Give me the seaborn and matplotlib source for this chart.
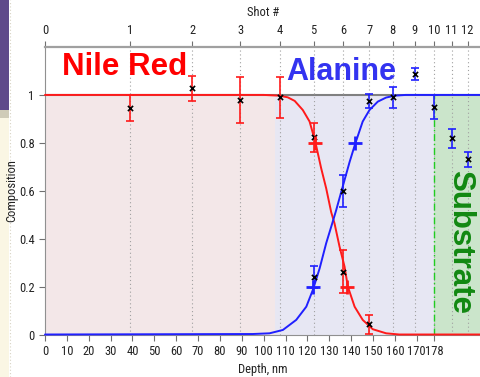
import numpy as np
import pandas as pd
import matplotlib
matplotlib.use("Agg")
import matplotlib.pyplot as plt
from matplotlib.patches import Rectangle
from matplotlib import font_manager
import seaborn as sns

# ---------------- data ----------------
shot_numbers = list(range(0, 13))
shot_depths = [0, 39.1, 67.3, 89.4, 107.4, 122.8, 136.5, 148.2, 159.0, 169.0, 177.8, 186.0, 193.3]

depth_ticks = [0, 10, 20, 30, 40, 50, 60, 70, 80, 90, 100, 110, 120, 130, 140, 150, 160, 170, 178]
comp_ticks = [0, 0.2, 0.4, 0.6, 0.8, 1.0]
comp_tick_labels = ["0", "0.2", "0.4", "0.6", "0.8", "1"]

# region boundaries (nm): Nile Red layer, Alanine layer, Substrate
region_edges = [0, 105.2, 178, 199.4]
region_names = ["Nile Red", "Alanine", "Substrate"]

# fitted profile curves
red_curve_depth = [0, 100, 107, 111, 114.2, 117.9, 121, 123.6, 126.3, 128.6, 130.9,
                   132.4, 134.7, 137, 138.5, 141.6, 145.3, 149.9, 156, 162, 200]
red_curve_comp = [1, 1, 0.997, 0.99, 0.975, 0.937, 0.889, 0.805, 0.694, 0.61, 0.51,
                  0.464, 0.367, 0.283, 0.2, 0.116, 0.061, 0.022, 0.005, 0, 0]
blue_curve_depth = [0, 95, 102.7, 108.8, 114.9, 119.5, 122.5, 125.6, 128.6, 131.6, 133.2,
                    135.5, 139.3, 142, 145.3, 148.4, 152.2, 156, 160, 165, 200]
blue_curve_comp = [0, 0.002, 0.005, 0.019, 0.061, 0.116, 0.186, 0.276, 0.381, 0.471, 0.52,
                   0.596, 0.72, 0.80, 0.889, 0.937, 0.972, 0.989, 0.997, 1, 1]

# measured points with error bars
red_pt_depth = [39.1, 67.3, 89.4, 107.4, 122.8, 136.5, 148.2]
red_pt_comp = [0.946, 1.027, 0.979, 0.990, 0.823, 0.262, 0.043]
red_pt_err = [0.055, 0.053, 0.097, 0.085, 0.061, 0.090, 0.040]
blue_pt_depth = [122.8, 136.5, 148.2, 159.0, 169.0, 177.8, 186.0, 193.3]
blue_pt_comp = [0.241, 0.599, 0.975, 0.990, 1.088, 0.949, 0.819, 0.732]
blue_pt_err = [0.045, 0.066, 0.030, 0.043, 0.024, 0.050, 0.039, 0.031]

# "+" markers (20 % / 80 % points)
red_plus_depth = [123.6, 138.0]
red_plus_comp = [0.80, 0.20]
blue_plus_depth = [122.5, 141.9]
blue_plus_comp = [0.20, 0.80]

# ---------------- styling ----------------
sns.set_style("white")
plt.rcParams["font.family"] = ["DejaVu Sans"]

# pick a narrow font for the axis texts if one is installed
names = {f.name for f in font_manager.fontManager.ttflist}
narrow = None
for cand in ["Liberation Sans Narrow", "Arial Narrow", "Roboto Condensed",
             "Open Sans Condensed", "DejaVu Sans Condensed"]:
    if cand in names:
        narrow = cand
        break
condensed_dejavu = any(f.name == "DejaVu Sans" and "ondensed" in f.fname
                       for f in font_manager.fontManager.ttflist)
if narrow is not None:
    small_font = dict(family=[narrow, "DejaVu Sans"], size=9)
elif condensed_dejavu:
    small_font = dict(family=["DejaVu Sans"], stretch="condensed", size=8.3)
else:
    small_font = dict(family=["Liberation Sans", "DejaVu Sans"], size=8)

RED = "#ff1a1a"
BLUE = "#2020ff"
fig = plt.figure(figsize=(4.81, 3.77), dpi=100)
fig.patch.set_facecolor("white")

# slide decoration at the left
deco = [
    Rectangle((0, 1 - 110 / 377), 9 / 481, 110 / 377, facecolor="#5f4a8b"),
    Rectangle((0, 0), 9 / 481, 1 - 118 / 377, facecolor="#faf6e4"),
    Rectangle((0, 1 - 118 / 377), 9 / 481, 8 / 377, facecolor="#cfcbb8"),
]
for r in deco:
    r.set_transform(fig.transFigure)
    r.set_edgecolor("none")
    r.set_zorder(-5)
    fig.add_artist(r)
fig.add_artist(plt.Line2D([10 / 481, 10 / 481], [0, 1], transform=fig.transFigure,
                          color="#d8d4c4", lw=0.8, ls=(0, (1, 2)), zorder=-5))

ax = fig.add_axes([45 / 481, (377 - 334.5) / 377, 1 - 45 / 481, (334.5 - 47) / 377])
ax.set_xlim(0, 199.4)
ax.set_ylim(0, 1.2)

# shaded regions
region_colors = ["#f3e7e8", "#e7e7f3", "#cbe5cb"]
for i in range(3):
    ax.fill_between([region_edges[i], region_edges[i + 1]], 0, 1, color=region_colors[i],
                    lw=0, zorder=0)
ax.axhline(1, color="#808080", lw=1.5, zorder=1)

# shot grid lines
for d in shot_depths[1:]:
    ax.axvline(d, color="#a0a0a0", lw=0.8, ls=(0, (1, 2.5)), zorder=1)
ax.plot([region_edges[2], region_edges[2]], [0, 1], color="#22cc22", lw=1.0,
        ls=(0, (5, 2, 1, 2)), zorder=2)

# curves
red_df = pd.DataFrame({"depth": red_curve_depth, "comp": red_curve_comp})
blue_df = pd.DataFrame({"depth": blue_curve_depth, "comp": blue_curve_comp})
sns.lineplot(data=red_df, x="depth", y="comp", color=RED, lw=1.4, ax=ax, zorder=3,
             sort=False, clip_on=False)
sns.lineplot(data=blue_df, x="depth", y="comp", color=BLUE, lw=1.4, ax=ax, zorder=3,
             sort=False, clip_on=False)

# error bars
ax.errorbar(red_pt_depth, red_pt_comp, yerr=red_pt_err, fmt="none", ecolor=RED,
            elinewidth=1.2, capsize=2.8, capthick=1.2, zorder=4)
ax.errorbar(blue_pt_depth, blue_pt_comp, yerr=blue_pt_err, fmt="none", ecolor=BLUE,
            elinewidth=1.2, capsize=2.8, capthick=1.2, zorder=4)
pts = pd.DataFrame({"depth": red_pt_depth + blue_pt_depth, "comp": red_pt_comp + blue_pt_comp})
sns.scatterplot(data=pts, x="depth", y="comp", marker="x", color="black", s=14,
                linewidth=1.2, ax=ax, zorder=5)

# + markers
sns.scatterplot(x=red_plus_depth, y=red_plus_comp, marker="+", color=RED, s=95,
                linewidth=2.0, ax=ax, zorder=5)
sns.scatterplot(x=blue_plus_depth, y=blue_plus_comp, marker="+", color=BLUE, s=95,
                linewidth=2.0, ax=ax, zorder=5)

# region labels
big = ["Liberation Sans", "DejaVu Sans"]
ax.text(7.8, 1.083, region_names[0], color="#ff0000", fontsize=22.5, fontweight="bold",
        family=big, ha="left", va="baseline", zorder=6)
ax.text(110.5, 1.063, region_names[1], color="#3333f0", fontsize=22, fontweight="bold",
        family=big, ha="left", va="baseline", zorder=6)
ax.text(189.8, 0.384, region_names[2], color="#118811", fontsize=22.5, fontweight="bold",
        family=big, ha="center", va="center", rotation=-90, zorder=6)

# axes styling
ax.set_xticks(depth_ticks)
ax.set_xticklabels([str(t) for t in depth_ticks], **small_font)
ax.set_yticks(comp_ticks)
ax.set_yticklabels(comp_tick_labels, **small_font)
ax.tick_params(axis="both", direction="out", length=4, width=0.8, color="#707070",
               labelcolor="#222222", pad=3.5, bottom=True, left=True)
ax.set_xlabel("Depth, nm", color="#222222", **small_font)
ax.set_ylabel("Composition", color="#222222", **small_font)
ax.xaxis.set_label_coords(0.5, -0.10)
ax.yaxis.set_label_coords(-0.062, 0.5)
for side in ["left", "bottom"]:
    ax.spines[side].set_color("#909090")
    ax.spines[side].set_linewidth(0.8)
ax.spines["right"].set_visible(False)
ax.spines["top"].set_visible(False)

ax2 = ax.twiny()
ax2.set_xlim(ax.get_xlim())
ax2.set_xticks(shot_depths)
ax2.set_xticklabels([str(s) for s in shot_numbers], **small_font)
ax2.tick_params(axis="x", direction="out", length=4, width=0.8, color="#707070",
                labelcolor="#222222", pad=3, top=True)
ax2.set_xlabel("Shot #", color="#222222", labelpad=6, **small_font)
for side in ["left", "bottom", "right"]:
    ax2.spines[side].set_visible(False)
ax2.spines["top"].set_color("#a0a0a0")
ax2.spines["top"].set_linewidth(1.6)

fig.savefig("out.png", dpi=100)
